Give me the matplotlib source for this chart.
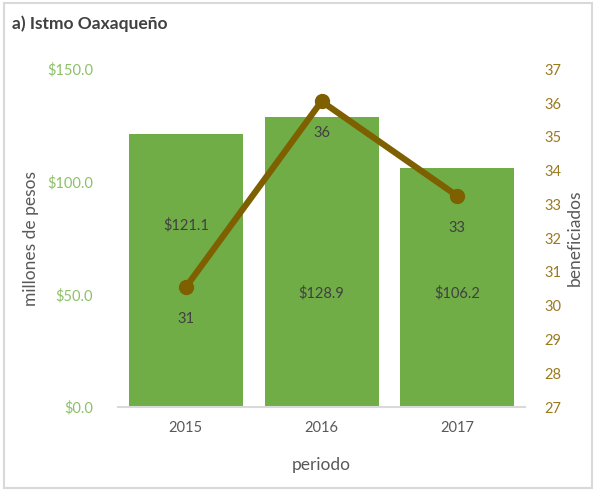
import matplotlib
matplotlib.use("Agg")
import matplotlib.pyplot as plt
from matplotlib.patches import Rectangle

plt.rcParams['font.family'] = ['Lato', 'DejaVu Sans']

years = ["2015", "2016", "2017"]
montos = [121.1, 128.9, 106.2]          # millones de pesos
monto_label_y = [80.8, 50.6, 50.6]      # where the $ labels sit
beneficiados = [30.55, 36.05, 33.25]

bar_color = "#70AD47"
line_color = "#7F6000"

fig = plt.figure(figsize=(5.96, 4.91), dpi=100)
ax = fig.add_axes([0.198, 0.171, 0.683, 0.688])

x = range(len(years))
ax.bar(x, montos, width=0.84, color=bar_color, zorder=2)
for i, (v, ly) in enumerate(zip(montos, monto_label_y)):
    ax.text(i, ly, f"${v:.1f}", ha="center", va="center", fontsize=10.5, color="#404040", zorder=5)

ax.set_xlim(-0.5, 2.5)
ax.set_ylim(0, 150)
ax.set_yticks([0, 50, 100, 150])
ax.set_yticklabels([f"${t:.1f}" for t in [0, 50, 100, 150]])
ax.set_xticks(list(x))
ax.set_xticklabels(years)
ax.tick_params(axis="y", colors="#8CC168", labelsize=10.5, length=0, pad=18)
ax.tick_params(axis="x", colors="#595959", labelsize=10.5, length=0, pad=10)
for s in ["top", "right", "left"]:
    ax.spines[s].set_visible(False)
ax.spines["bottom"].set_color("#D9D9D9")
ax.spines["bottom"].set_linewidth(1.5)
ax.set_ylabel("millones de pesos", fontsize=12.5, color="#595959", labelpad=6)
ax.set_xlabel("periodo", fontsize=12.5, color="#595959", labelpad=16)

ax2 = ax.twinx()
ax2.plot(list(x), beneficiados, color=line_color, lw=4.5, marker="o", markersize=10, zorder=3)
for i, v in enumerate(beneficiados):
    ax2.annotate(f"{v:.0f}", (i, v), xytext=(0, -23), textcoords="offset points",
                 ha="center", va="center", fontsize=10.5, color="#404040")
ax2.set_ylim(27, 37)
ax2.set_yticks(range(27, 38))
ax2.tick_params(axis="y", colors="#997A1F", labelsize=10.5, length=0, pad=14)
for s in ["top", "right", "left", "bottom"]:
    ax2.spines[s].set_visible(False)
ax2.set_ylabel("beneficiados", fontsize=12.5, color="#595959", labelpad=4)

fig.text(0.02, 0.952, "a) Istmo Oaxaqueño", fontsize=12.5, fontweight="bold", color="#404040", va="center")
fig.patches.append(Rectangle((0.006, 0.006), 0.988, 0.988, transform=fig.transFigure,
                             fill=False, edgecolor="#D9D9D9", lw=1.5))

fig.savefig("out.png", dpi=100)
